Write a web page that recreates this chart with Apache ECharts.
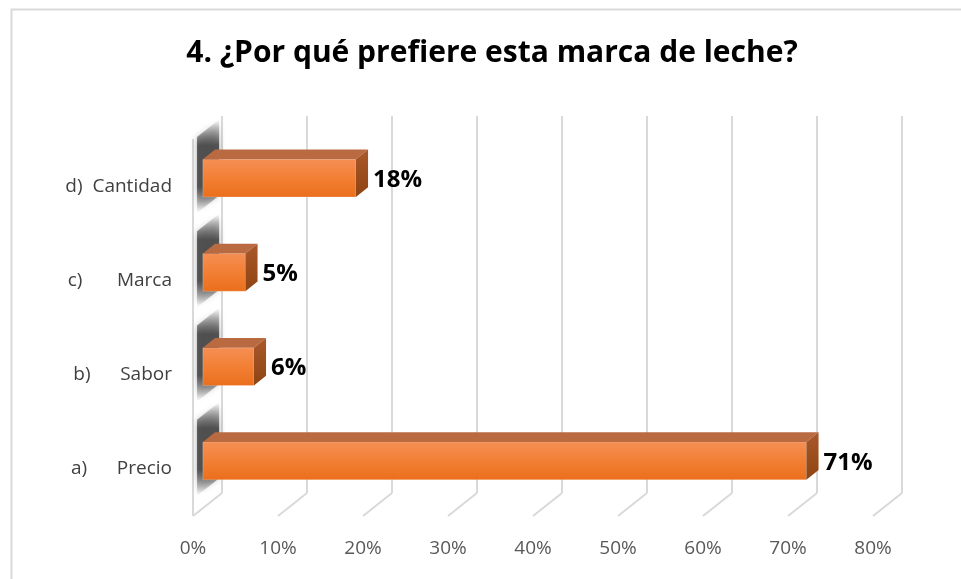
<!DOCTYPE html>
<html>
<head>
<meta charset="utf-8">
<script src="https://cdn.jsdelivr.net/npm/echarts@6/dist/echarts.min.js"></script>
<style>
  html, body { margin: 0; padding: 0; background: #fff; }
  #chart { width: 961px; height: 579px; }
</style>
</head>
<body>
<div id="chart"></div>
<script>
// datos
const categories = ['a)      Precio', 'b)      Sabor', 'c)       Marca', 'd)  Cantidad'];
const values = [71, 6, 5, 18];
const ticks = [0, 10, 20, 30, 40, 50, 60, 70, 80];

const chart = echarts.init(document.getElementById('chart'));

// profundidad del "3D" (pared de fondo respecto al plano frontal)
const DX = 29, DY = -23;
const gridColor = '#d9d9d9';
const FONT = '"Open Sans"';

// paredes y lineas de division
const renderFrame = (params, api) => {
  const cs = params.coordSys;
  const v = api.value(0);
  const x = api.coord([v, 0])[0];
  const bottom = cs.y + cs.height;
  const top = cs.y;
  const children = [
    {type: 'line', shape: {x1: x + DX, y1: top + DY, x2: x + DX, y2: bottom + DY},
      style: {stroke: gridColor, lineWidth: 2}},
    {type: 'line', shape: {x1: x + DX, y1: bottom + DY, x2: x, y2: bottom},
      style: {stroke: gridColor, lineWidth: 2}}
  ];
  if (v === 0) {
    children.push({type: 'line', shape: {x1: x, y1: top, x2: x, y2: bottom},
      style: {stroke: gridColor, lineWidth: 2}});
  }
  return {type: 'group', children};
};

// sombra difusa
const shadowFill = () => new echarts.graphic.LinearGradient(0, 0, 0, 1, [
  {offset: 0, color: 'rgba(70,70,70,0)'},
  {offset: 0.28, color: 'rgba(70,70,70,0.9)'},
  {offset: 0.72, color: 'rgba(70,70,70,0.9)'},
  {offset: 1, color: 'rgba(70,70,70,0)'}
]);

// barras 3D
const renderBar = (params, api) => {
  const v = api.value(0);
  const i = api.value(1);
  const p0 = api.coord([0, i]);
  const p1 = api.coord([v, i]);
  const band = api.size([0, 1])[1];
  const h = band * 0.4;
  const cy = p0[1] - 8;
  const f1 = 0.34, f2 = 0.76;
  const ax = p0[0] + DX * f1, bx = p1[0] + DX * f1;
  const ty = cy - h / 2, by = cy + h / 2;
  const ddx = DX * (f2 - f1), ddy = DY * (f2 - f1);

  // sombra en la pared izquierda
  const wx = p0[0];
  const s0 = 0.14, s1 = 0.9;
  const shadow = {
    type: 'polygon',
    shape: {points: [
      [wx + DX * s0, p0[1] - 46 + DY * s0],
      [wx + DX * s1, p0[1] - 46 + DY * s1],
      [wx + DX * s1, p0[1] + 30 + DY * s1],
      [wx + DX * s0, p0[1] + 30 + DY * s0]
    ]},
    style: {fill: shadowFill(), shadowBlur: 6, shadowColor: 'rgba(90,90,90,0.6)'}
  };

  const front = {
    type: 'rect',
    shape: {x: ax, y: ty, width: bx - ax, height: h},
    style: {
      fill: new echarts.graphic.LinearGradient(0, 0, 0, 1, [
        {offset: 0, color: '#f58f55'},
        {offset: 0.5, color: '#f27f34'},
        {offset: 1, color: '#ea6f1c'}
      ]),
      stroke: 'rgba(255,255,255,0.4)', lineWidth: 0.5
    }
  };
  const topFace = {
    type: 'polygon',
    shape: {points: [[ax, ty], [bx, ty], [bx + ddx, ty + ddy], [ax + ddx, ty + ddy]]},
    style: {fill: '#b96a40'}
  };
  const side = {
    type: 'polygon',
    shape: {points: [[bx, ty], [bx + ddx, ty + ddy], [bx + ddx, by + ddy], [bx, by]]},
    style: {
      fill: new echarts.graphic.LinearGradient(0, 0, 0, 1, [
        {offset: 0, color: '#a9582a'},
        {offset: 1, color: '#8f4413'}
      ])
    }
  };
  const label = {
    type: 'text',
    x: bx + ddx + 5,
    y: cy + 2,
    style: {
      text: v + '%', fill: '#000', font: 'bold 24px ' + FONT,
      verticalAlign: 'middle', align: 'left'
    }
  };
  return {type: 'group', children: [shadow, front, topFace, side, label]};
};

const option = {
  backgroundColor: '#fff',
  animation: false,
  title: {
    text: '4. ¿Por qué prefiere esta marca de leche?',
    left: 487,
    top: 33,
    textAlign: 'center',
    textStyle: {fontFamily: 'Open Sans', fontWeight: 'bold', fontSize: 30, color: '#000'}
  },
  graphic: [
    {type: 'rect', left: 9, top: 7, shape: {width: 980, height: 600},
      style: {fill: 'none', stroke: '#d9d9d9', lineWidth: 2}, silent: true}
  ],
  grid: {left: 193, right: 88, top: 139, bottom: 63},
  xAxis: {
    type: 'value',
    min: 0,
    max: 80,
    interval: 10,
    axisLine: {show: false},
    axisTick: {show: false},
    splitLine: {show: false},
    axisLabel: {formatter: '{value}%', color: '#595959', fontSize: 19, fontFamily: 'Open Sans', margin: 23}
  },
  yAxis: {
    type: 'category',
    data: categories,
    axisLine: {show: false},
    axisTick: {show: false},
    axisLabel: {color: '#404040', fontSize: 19, fontFamily: 'Open Sans', margin: 21}
  },
  series: [
    {
      type: 'custom',
      renderItem: renderFrame,
      data: ticks.map(t => [t]),
      z: 1,
      silent: true
    },
    {
      type: 'custom',
      renderItem: renderBar,
      data: values.map((v, i) => [v, i]),
      encode: {x: 0, y: 1},
      z: 2
    }
  ]
};

chart.setOption(option);
window.addEventListener('resize', () => chart.resize());
</script>
</body>
</html>
